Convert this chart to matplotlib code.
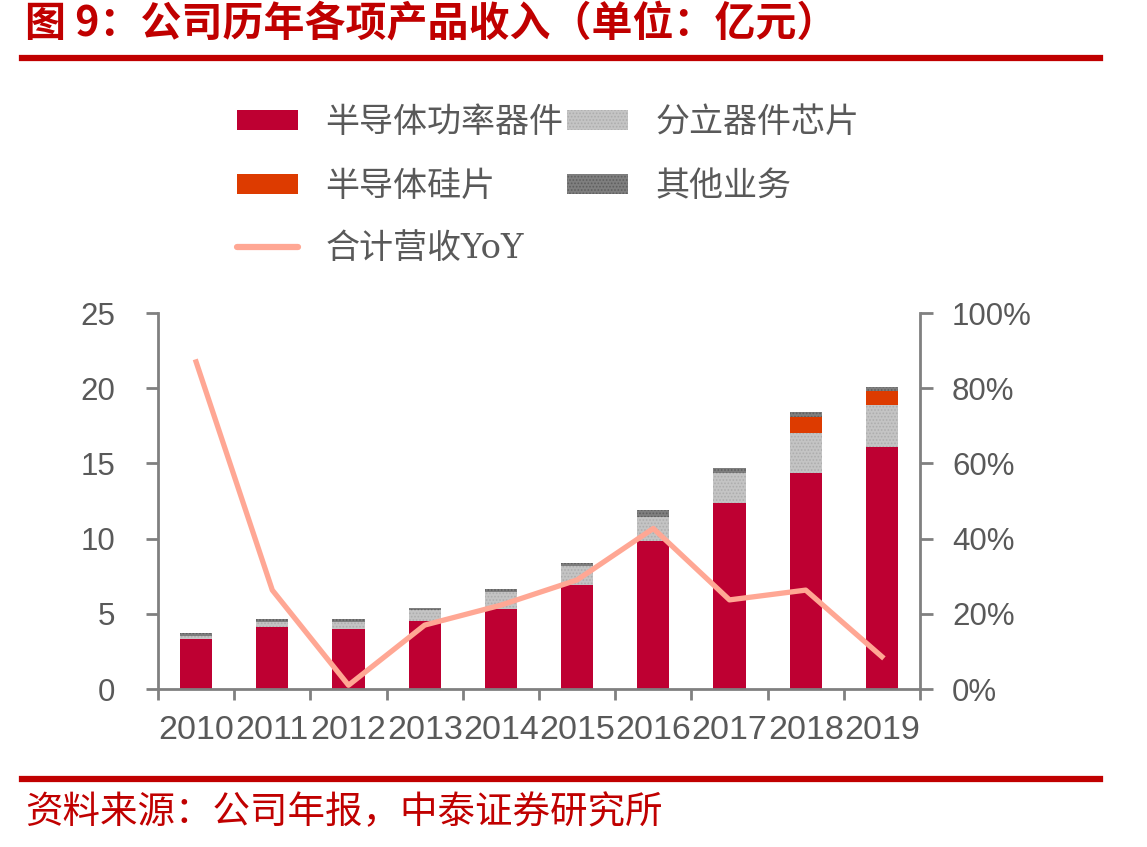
import numpy as np
import matplotlib
matplotlib.use("Agg")
import matplotlib.pyplot as plt
from matplotlib.ticker import FuncFormatter, MultipleLocator
from matplotlib.lines import Line2D

plt.rcParams['font.family'] = ['Noto Sans CJK SC', 'DejaVu Sans']
plt.rcParams['hatch.linewidth'] = 0.8

# 数据（亿元）
years = ['2010', '2011', '2012', '2013', '2014', '2015', '2016', '2017', '2018', '2019']
power = [3.30, 4.10, 3.97, 4.50, 5.32, 6.89, 9.82, 12.35, 14.34, 16.07]   # 半导体功率器件
chips = [0.24, 0.35, 0.48, 0.75, 1.15, 1.29, 1.60, 1.99, 2.66, 2.79]     # 分立器件芯片
wafer = [0, 0, 0, 0, 0, 0, 0, 0, 1.07, 0.93]                             # 半导体硅片
other = [0.16, 0.18, 0.18, 0.16, 0.16, 0.18, 0.50, 0.38, 0.37, 0.27]     # 其他业务
yoy = [0.87, 0.263, 0.01, 0.17, 0.223, 0.29, 0.427, 0.237, 0.263, 0.086]  # 合计营收YoY

labels = ['半导体功率器件', '分立器件芯片', '半导体硅片', '其他业务', '合计营收YoY']

c_red = '#BE0032'
c_light = '#C4C4C4'
c_orange = '#DD3B00'
c_dark = '#7F7F7F'
c_line = '#FFA794'
c_axis = '#808080'
c_text = '#595959'
c_title = '#C00000'

W, H = 1147, 847
fig = plt.figure(figsize=(W / 100, H / 100), dpi=100)
ax = fig.add_axes([158 / W, 1 - 689 / H, 762 / W, 376 / H])

x = np.arange(len(years))
bw = 0.42
power = np.array(power)
chips = np.array(chips)
wafer = np.array(wafer)
other = np.array(other)

b1 = ax.bar(x, power, bw, color=c_red, linewidth=0)
b2 = ax.bar(x, chips, bw, bottom=power, color=c_light, edgecolor='#ADADAD',
            hatch='.....', linewidth=0)
b3 = ax.bar(x, wafer, bw, bottom=power + chips, color=c_orange, linewidth=0)
b4 = ax.bar(x, other, bw, bottom=power + chips + wafer, color=c_dark,
            edgecolor='#5E5E5E', hatch='.....', linewidth=0)

ax.set_xlim(-0.5, len(years) - 0.5)
ax.set_ylim(0, 25)
ax.yaxis.set_major_locator(MultipleLocator(5))
ax.set_xticks(x)
ax.set_xticklabels(years)
ax.set_xticks(np.arange(-0.5, len(years), 1), minor=True)
ax.tick_params(axis='x', which='major', length=0, pad=19, labelsize=24.5, labelcolor=c_text)
ax.tick_params(axis='x', which='minor', length=8, width=2, color=c_axis, direction='out')
ax.tick_params(axis='y', length=9, width=2, color=c_axis, direction='out', pad=22,
               labelsize=22.5, labelcolor=c_text)
for t in ax.get_xticklabels() + ax.get_yticklabels():
    t.set_family(['Liberation Sans', 'DejaVu Sans'])

for s in ['top', 'right']:
    ax.spines[s].set_visible(False)
for s in ['left', 'bottom']:
    ax.spines[s].set_color(c_axis)
    ax.spines[s].set_linewidth(2)

ax2 = ax.twinx()
ax2.plot(x, yoy, color=c_line, linewidth=3.8, solid_joinstyle='round')
ax2.set_ylim(0, 1)
ax2.yaxis.set_major_locator(MultipleLocator(0.2))
ax2.yaxis.set_major_formatter(FuncFormatter(lambda v, p: '%d%%' % round(v * 100)))
ax2.tick_params(axis='y', length=9, width=2, color=c_axis, direction='out', pad=14,
                labelsize=22.5, labelcolor=c_text)
for t in ax2.get_yticklabels():
    t.set_family(['Liberation Sans', 'DejaVu Sans'])
for s in ['top', 'left', 'bottom']:
    ax2.spines[s].set_visible(False)
ax2.spines['right'].set_color(c_axis)
ax2.spines['right'].set_linewidth(2)

# 图例（按列填充）
h_line = Line2D([0], [0], color=c_line, linewidth=4.5, solid_capstyle='round')
handles = [b1, b3, h_line, b2, b4]
leg_labels = [labels[0], labels[2], labels[4], labels[1], labels[3]]
leg = fig.legend(handles, leg_labels, ncol=2, loc='upper left',
                 bbox_to_anchor=(237 / W, 1 - 105 / H), frameon=False,
                 fontsize=24.5, handlelength=1.8, handleheight=0.5,
                 handletextpad=0.8, columnspacing=0.1, labelspacing=0.85,
                 borderpad=0, borderaxespad=0)
for t in leg.get_texts():
    t.set_color(c_text)
leg.get_texts()[2].set_family(['DejaVu Serif', 'Noto Sans CJK SC'])

# 标题、分隔线、来源
fig.text(25 / W, 1 - 24 / H, '图 9：公司历年各项产品收入（单位：亿元）', color=c_title,
         fontsize=29.5, fontweight='bold', va='center', ha='left')
fig.add_artist(Line2D([22 / W, 1100 / W], [1 - 58.5 / H, 1 - 58.5 / H],
                      color=c_title, linewidth=4.5))
fig.add_artist(Line2D([22 / W, 1100 / W], [1 - 779 / H, 1 - 779 / H],
                      color=c_title, linewidth=4.5))
fig.text(25 / W, 1 - 813 / H, '资料来源：公司年报，中泰证券研究所', color=c_title,
         fontsize=27, va='center', ha='left')

fig.savefig('out.png', dpi=100)
